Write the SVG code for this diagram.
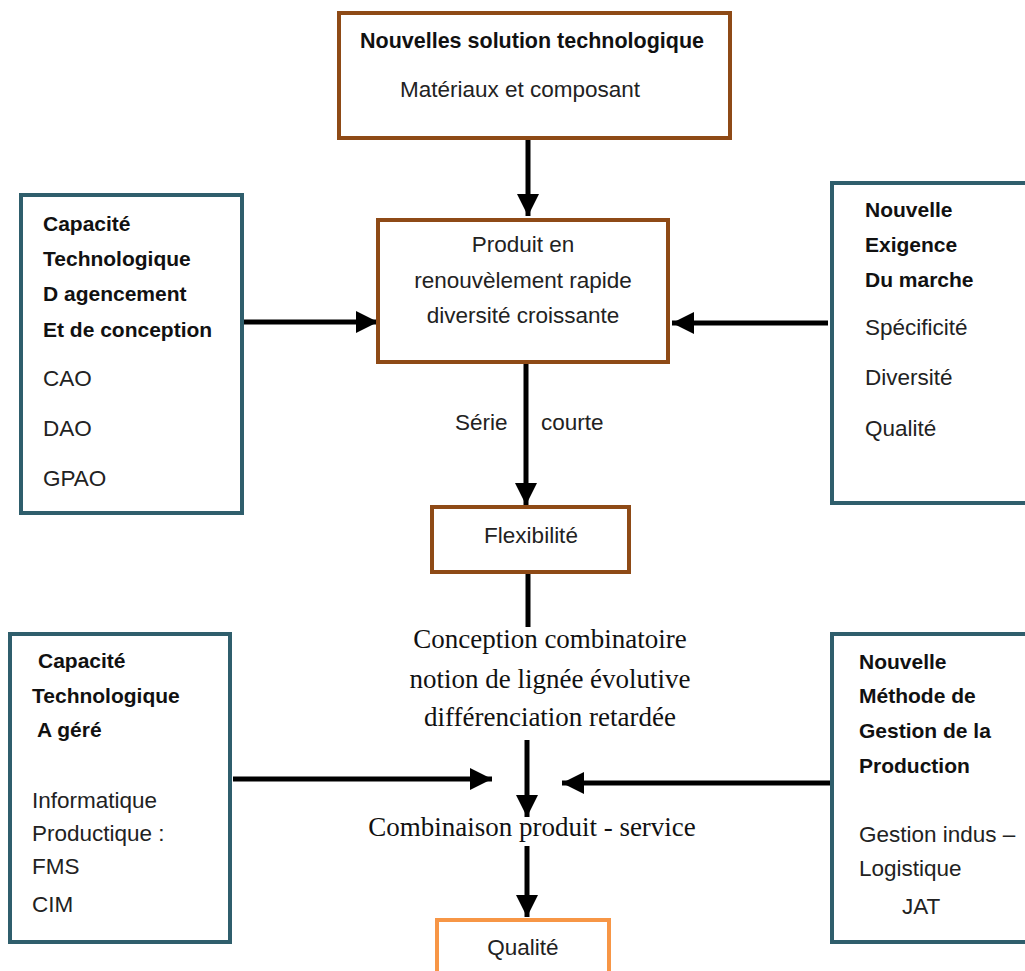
<svg xmlns="http://www.w3.org/2000/svg" width="1025" height="971" viewBox="0 0 1025 971">
<defs>
<marker id="ah" markerUnits="userSpaceOnUse" markerWidth="24" markerHeight="24" viewBox="0 0 24 24" refX="22" refY="12" orient="auto">
<path d="M0,1 L22,12 L0,23 Z" fill="#000"/>
</marker>
<style>
.brown{fill:#fff;stroke:#8e4a16;stroke-width:4}
.teal{fill:#fff;stroke:#2f5e6c;stroke-width:4}
.orange{fill:#fff;stroke:#f79646;stroke-width:4}
.b{font-family:"Liberation Sans",Arial,sans-serif;font-weight:bold;font-size:21px;fill:#111}
.r{font-family:"Liberation Sans",Arial,sans-serif;font-size:22.5px;fill:#222}
.s{font-family:"Liberation Serif","Times New Roman",serif;font-size:27px;fill:#111}
.c{text-anchor:middle}
.line{stroke:#000;stroke-width:5;fill:none}
</style>
</defs>
<rect width="1025" height="971" fill="#fff"/>
<g id="connectors">
<line class="line" x1="528" y1="140" x2="528" y2="216" marker-end="url(#ah)"/>
<line class="line" x1="244" y1="322" x2="378" y2="322" marker-end="url(#ah)"/>
<line class="line" x1="828" y1="323" x2="672" y2="323" marker-end="url(#ah)"/>
<line class="line" x1="526" y1="364" x2="526" y2="505" marker-end="url(#ah)"/>
<line class="line" x1="528" y1="574" x2="528" y2="627"/>
<line class="line" x1="527" y1="740" x2="527" y2="817" marker-end="url(#ah)"/>
<line class="line" x1="233" y1="779" x2="492" y2="779" marker-end="url(#ah)"/>
<line class="line" x1="830" y1="783" x2="562" y2="783" marker-end="url(#ah)"/>
<line class="line" x1="527" y1="846" x2="527" y2="917" marker-end="url(#ah)"/>
<text class="r" x="455" y="430">Série</text>
<text class="r" x="541" y="430">courte</text>
<text class="s c" x="550" y="648">Conception combinatoire</text>
<text class="s c" x="550" y="688">notion de lignée évolutive</text>
<text class="s c" x="550" y="726">différenciation retardée</text>
<text class="s c" x="532" y="836">Combinaison produit - service</text>
</g>
<g id="top">
<rect class="brown" x="339" y="13" width="391" height="125"/>
<text class="b" x="360" y="48" style="font-size:21.5px">Nouvelles solution technologique</text>
<text class="r" x="400" y="97">Matériaux et composant</text>
</g>
<g id="produit">
<rect class="brown" x="378" y="220" width="290" height="142"/>
<text class="r c" x="523" y="252">Produit en</text>
<text class="r c" x="523" y="288">renouvèlement rapide</text>
<text class="r c" x="523" y="323">diversité croissante</text>
</g>
<g id="capacite1">
<rect class="teal" x="21" y="195" width="221" height="318"/>
<text class="b" x="43" y="231">Capacité</text>
<text class="b" x="43" y="266">Technologique</text>
<text class="b" x="43" y="301">D agencement</text>
<text class="b" x="43" y="337">Et de conception</text>
<text class="r" x="43" y="386">CAO</text>
<text class="r" x="43" y="436">DAO</text>
<text class="r" x="43" y="486">GPAO</text>
</g>
<g id="exigence">
<rect class="teal" x="832" y="183" width="200" height="320"/>
<text class="b" x="865" y="217">Nouvelle</text>
<text class="b" x="865" y="252">Exigence</text>
<text class="b" x="865" y="287">Du marche</text>
<text class="r" x="865" y="335">Spécificité</text>
<text class="r" x="865" y="385">Diversité</text>
<text class="r" x="865" y="436">Qualité</text>
</g>
<g id="flexibilite">
<rect class="brown" x="432" y="507" width="197" height="65"/>
<text class="r c" x="531" y="543">Flexibilité</text>
</g>
<g id="capacite2">
<rect class="teal" x="10" y="634" width="220" height="308"/>
<text class="b" x="38" y="668">Capacité</text>
<text class="b" x="32" y="703">Technologique</text>
<text class="b" x="37" y="737">A géré</text>
<text class="r" x="32" y="808">Informatique</text>
<text class="r" x="32" y="841">Productique :</text>
<text class="r" x="32" y="874">FMS</text>
<text class="r" x="32" y="912">CIM</text>
</g>
<g id="methode">
<rect class="teal" x="832" y="634" width="200" height="308"/>
<text class="b" x="859" y="669">Nouvelle</text>
<text class="b" x="859" y="703">Méthode de</text>
<text class="b" x="859" y="738">Gestion de la</text>
<text class="b" x="859" y="773">Production</text>
<text class="r" x="859" y="842">Gestion indus –</text>
<text class="r" x="859" y="876">Logistique</text>
<text class="r" x="902" y="914">JAT</text>
</g>
<g id="qualite">
<rect class="orange" x="437" y="920" width="172" height="60"/>
<text class="r c" x="523" y="955">Qualité</text>
</g>
</svg>
